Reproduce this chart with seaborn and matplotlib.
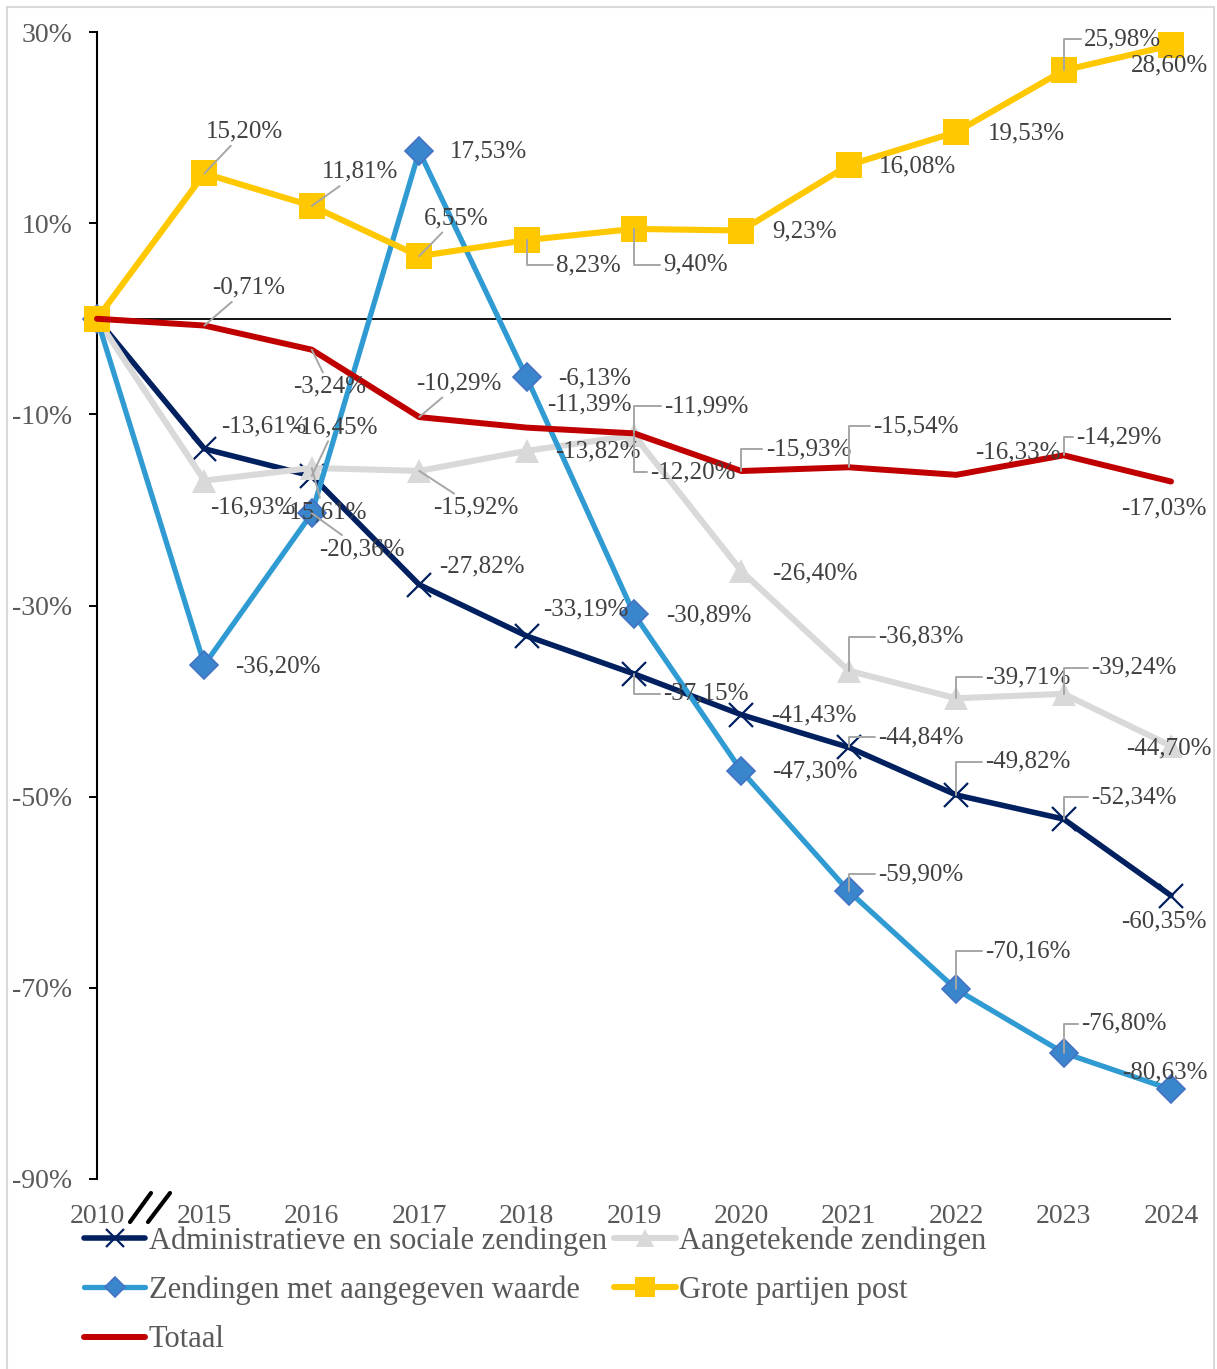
import matplotlib
matplotlib.use("Agg")
import matplotlib.pyplot as plt
from matplotlib.lines import Line2D
from matplotlib.patches import Rectangle
from matplotlib.ticker import FixedLocator, FuncFormatter
import pandas as pd
import seaborn as sns

# --- data (percent change vs 2010) ---
years = ["2010", "2015", "2016", "2017", "2018", "2019", "2020", "2021", "2022", "2023", "2024"]
admin = [0, -13.61, -16.45, -27.82, -33.19, -37.15, -41.43, -44.84, -49.82, -52.34, -60.35]
aangetekend = [0, -16.93, -15.61, -15.92, -13.82, -12.20, -26.40, -36.83, -39.71, -39.24, -44.70]
waarde = [0, -36.20, -20.36, 17.53, -6.13, -30.89, -47.30, -59.90, -70.16, -76.80, -80.63]
grote = [0, 15.20, 11.81, 6.55, 8.23, 9.40, 9.23, 16.08, 19.53, 25.98, 28.60]
totaal = [0, -0.71, -3.24, -10.29, -11.39, -11.99, -15.93, -15.54, -16.33, -14.29, -17.03]

names = ["Administratieve en sociale zendingen", "Aangetekende zendingen",
         "Zendingen met aangegeven waarde", "Grote partijen post", "Totaal"]
y_ticks = [-90, -70, -50, -30, -10, 10, 30]

# --- styles ---
styles = {
    names[0]: dict(color="#002060", marker="x", markersize=17, markeredgewidth=1.6,
                   markeredgecolor="#002060", linewidth=4),
    names[1]: dict(color="#D9D9D9", marker="^", markersize=17, markeredgewidth=0,
                   markerfacecolor="#D9D9D9", linewidth=4.4),
    names[2]: dict(color="#2F9BD2", marker="D", markersize=14, markeredgewidth=1.2,
                   markerfacecolor="#3A86CC", markeredgecolor="#4472C4", linewidth=3.8),
    names[3]: dict(color="#FFC800", marker="s", markersize=19, markeredgewidth=0,
                   markerfacecolor="#FFC800", linewidth=4.4),
    names[4]: dict(color="#C00000", marker=None, linewidth=4.3),
}

# label offsets in pixels (dx right, dy down) for 2015..2024, with leader kind
offsets = {
    names[0]: [(59, -22, None), (23, -49, "d"), (63, -18, None), (59, -27, None), (72, 20, "e"),
               (72, 1, None), (72, -10, "e"), (72, -33, "e"), (70, -22, "e"), (-7, 26, None)],
    names[1]: [(48, 27, None), (12, 44, "d"), (57, 37, "d"), (71, 1, None), (59, 37, "e"),
               (73, 2, None), (72, -34, "e"), (72, -21, "e"), (70, -26, "e"), (-2, 2, None)],
    names[2]: [(73, 2, None), (50, 36, "d"), (69, 0, None), (68, 1, None), (75, 1, None),
               (73, 1, None), (72, -17, "e"), (72, -38, "e"), (60, -29, "e"), (-6, -17, None)],
    names[3]: [(40, -42, "d"), (48, -34, "d"), (37, -38, "d"), (62, 25, "e"), (62, 36, "e"),
               (63, 1, None), (69, 1, None), (70, 1, None), (59, -31, "e"), (-2, 20, None)],
    names[4]: [(44, -38, "d"), (18, 37, "d"), (40, -34, "d"), (63, -23, None), (72, -27, "e"),
               (67, -22, "e"), (67, -41, "e"), (62, -22, None), (55, -18, "e"), (-7, 27, None)],
}

series = dict(zip(names, [admin, aangetekend, waarde, grote, totaal]))
df = pd.DataFrame([(n, i, v) for n, vals in series.items() for i, v in enumerate(vals)],
                  columns=["reeks", "pos", "waarde"])

sns.set_style("white")
plt.rcParams["font.family"] = ["Liberation Serif", "DejaVu Serif"]

W, H = 1217, 1369
fig = plt.figure(figsize=(W / 100, H / 100), dpi=100)
ax = fig.add_axes([97 / W, 1 - 1179 / H, (1171 - 97) / W, (1179 - 32) / H])

ax.axhline(0, color="black", linewidth=1.3, zorder=1)

for n in names:
    sub = df[df["reeks"] == n]
    sns.lineplot(data=sub, x="pos", y="waarde", ax=ax, label=n, clip_on=False,
                 zorder=3, **styles[n])

label_color = "#404040"
leader_color = "#A6A6A6"
for n in names:
    vals = series[n]
    for i, (dx, dy, kind) in enumerate(offsets[n], start=1):
        txt = f"{vals[i]:.2f}%".replace(".", ",")
        kw = {}
        if kind == "d":
            kw["arrowprops"] = dict(arrowstyle="-", color=leader_color, lw=1.4,
                                    shrinkA=0, shrinkB=0)
        elif kind == "e":
            kw["arrowprops"] = dict(arrowstyle="-", color=leader_color, lw=1.4,
                                    shrinkA=0, shrinkB=0, relpos=(0, 0.5),
                                    connectionstyle="angle,angleA=0,angleB=90,rad=0")
        ax.annotate(txt, xy=(i, vals[i]), xytext=(dx, -dy), textcoords="offset pixels",
                    ha="center", va="center", fontsize=18, color=label_color,
                    zorder=5, annotation_clip=False, **kw)

ax.set_xlim(0, len(years) - 1)
ax.set_ylim(-90, 30)
ax.set_xticks(range(len(years)))
ax.set_xticklabels(years)
ax.yaxis.set_major_locator(FixedLocator(y_ticks))
ax.yaxis.set_major_formatter(FuncFormatter(lambda v, p: f"{v:.0f}%"))
ax.set_xlabel("")
ax.set_ylabel("")

for s in ["top", "right", "bottom"]:
    ax.spines[s].set_visible(False)
ax.spines["left"].set_color("black")
ax.spines["left"].set_linewidth(1.5)
ax.tick_params(axis="y", left=True, direction="out", length=6, width=1.4, color="black",
               labelsize=20, labelcolor="#595959", pad=12)
ax.tick_params(axis="x", bottom=False, length=0, labelsize=20, labelcolor="#595959", pad=18)

# axis break mark between 2010 and 2015
for x0, x1 in [(130, 151), (148, 170)]:
    fig.add_artist(Line2D([x0 / W, x1 / W], [1 - 1222 / H, 1 - 1193 / H],
                          transform=fig.transFigure, color="black", lw=3))

# legend, filled row-wise like the original
handles, labels = ax.get_legend_handles_labels()
ax.get_legend().remove()
order = [0, 2, 4, 1, 3]
fig.legend([handles[k] for k in order], [labels[k] for k in order],
           loc="upper left", bbox_to_anchor=(84 / W, 1 - 1226 / H), ncol=2,
           frameon=False, fontsize=22, labelcolor="#595959", handlelength=2.0,
           handletextpad=0.12, labelspacing=0.66, columnspacing=0.25,
           borderpad=0, borderaxespad=0, markerscale=0.75)

fig.add_artist(Rectangle((7 / W, -0.01), (1214 - 7) / W, 1 - 7 / H + 0.01,
                         transform=fig.transFigure, fill=False,
                         edgecolor="#D9D9D9", lw=1.5))

fig.savefig("out.png", dpi=100)
